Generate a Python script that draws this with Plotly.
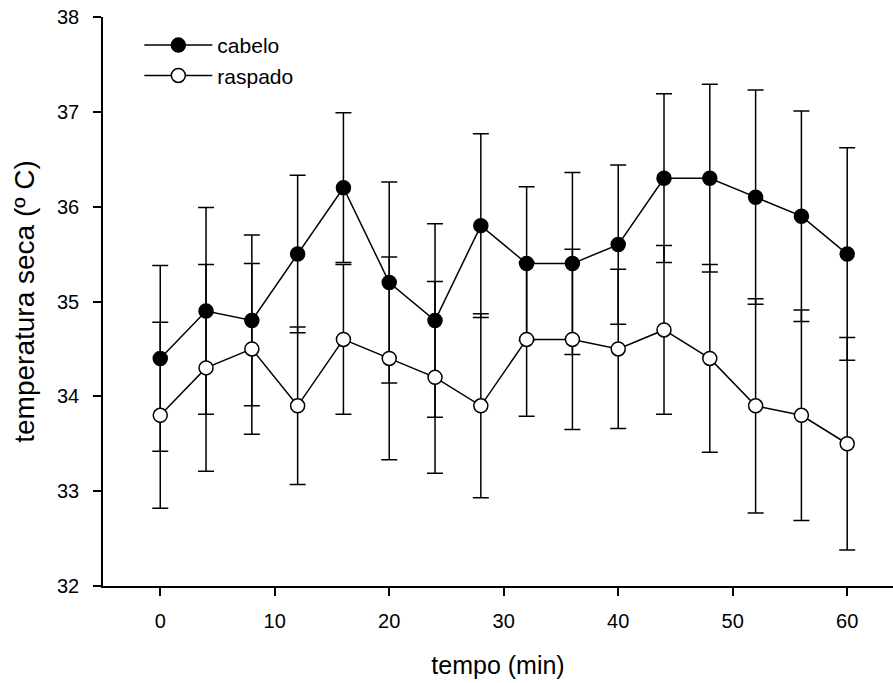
import plotly.graph_objects as go

tempo = [0, 4, 8, 12, 16, 20, 24, 28, 32, 36, 40, 44, 48, 52, 56, 60]
cabelo = [34.4, 34.9, 34.8, 35.5, 36.2, 35.2, 34.8, 35.8, 35.4, 35.4, 35.6, 36.3, 36.3, 36.1, 35.9, 35.5]
cabelo_err = [0.98, 1.09, 0.90, 0.83, 0.79, 1.06, 1.02, 0.97, 0.81, 0.96, 0.84, 0.89, 0.99, 1.13, 1.11, 1.12]
raspado = [33.8, 34.3, 34.5, 33.9, 34.6, 34.4, 34.2, 33.9, 34.6, 34.6, 34.5, 34.7, 34.4, 33.9, 33.8, 33.5]
raspado_err = [0.98, 1.09, 0.90, 0.83, 0.79, 1.07, 1.01, 0.97, 0.81, 0.95, 0.84, 0.89, 0.99, 1.13, 1.11, 1.12]

FONT = "Liberation Sans, Arial, sans-serif"

fig = go.Figure()
fig.add_trace(go.Scatter(
    x=tempo, y=cabelo, name="cabelo", mode="lines+markers",
    line=dict(color="black", width=1.5),
    marker=dict(symbol="circle", size=14, color="black", line=dict(color="black", width=1.5)),
    error_y=dict(type="data", array=cabelo_err, visible=True, color="black", thickness=1.5, width=8),
))
fig.add_trace(go.Scatter(
    x=tempo, y=raspado, name="raspado", mode="lines+markers",
    line=dict(color="black", width=1.5),
    marker=dict(symbol="circle", size=14, color="white", line=dict(color="black", width=1.5)),
    error_y=dict(type="data", array=raspado_err, visible=True, color="black", thickness=1.5, width=8),
))

fig.update_layout(
    width=893, height=683,
    margin=dict(l=103, r=0, t=17, b=97),
    paper_bgcolor="white", plot_bgcolor="white",
    font=dict(family=FONT, color="black", size=20),
    showlegend=True,
    legend=dict(x=0.046, y=0.986, xanchor="left", yanchor="top",
                bgcolor="rgba(0,0,0,0)", font=dict(family=FONT, size=21, color="black"),
                itemwidth=68, tracegroupgap=0),
    xaxis=dict(range=[-5, 64], showline=True, linecolor="black", linewidth=1.5,
               ticks="outside", ticklen=8, tickwidth=1.5, tickcolor="black",
               tickvals=[0, 10, 20, 30, 40, 50, 60], showgrid=False, zeroline=False,
               tickfont=dict(family=FONT, size=20), ticklabelstandoff=8,
               title=dict(text="tempo (min)", font=dict(family=FONT, size=25), standoff=26)),
    yaxis=dict(range=[32, 38], showline=True, linecolor="black", linewidth=1.5,
               ticks="outside", ticklen=8, tickwidth=1.5, tickcolor="black",
               tickvals=[32, 33, 34, 35, 36, 37, 38], showgrid=False, zeroline=False,
               tickfont=dict(family=FONT, size=20), ticklabelstandoff=10,
               title=dict(text="temperatura seca (º C)", font=dict(family=FONT, size=28), standoff=14)),
)

fig.write_html("out.html")
